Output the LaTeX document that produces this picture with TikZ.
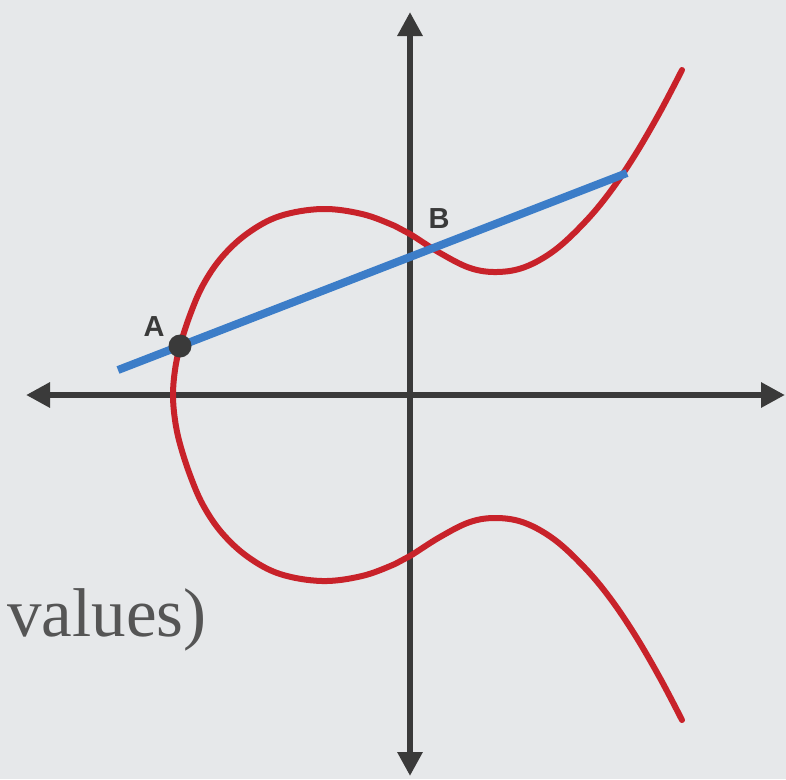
\documentclass[tikz,border=0pt]{standalone}
\usepackage{fontspec}
\setmainfont{Liberation Serif}
\newfontfamily\labfont{Liberation Sans}
\usetikzlibrary{arrows.meta}
\definecolor{bgc}{HTML}{E6E8EA}
\definecolor{axisc}{HTML}{3A3A3A}
\definecolor{curvec}{HTML}{C8222A}
\definecolor{linec}{HTML}{3C7DC8}
\definecolor{textc}{HTML}{555555}
\tikzset{
  axisline/.style={draw=axisc, line width=6pt, -{Triangle[length=24pt,width=24pt]}},
  curveline/.style={draw=curvec, line width=6pt, line cap=round},
  secant/.style={draw=linec, line width=8pt},
  ptlabel/.style={text=axisc, font=\labfont\bfseries\fontsize{29}{29}\selectfont, inner sep=0pt},
  dotpt/.style={circle, fill=axisc, minimum size=23pt, inner sep=0pt}
}
\begin{document}
\begin{tikzpicture}[x=1pt,y=-1pt]
\fill[bgc] (0,0) rectangle (786,779);
\useasboundingbox (0,0) rectangle (786,779);
\coordinate (O) at (410,395);
\coordinate (xl) at (26,395);
\coordinate (xr) at (785,395);
\coordinate (yt) at (410,12);
\coordinate (yb) at (410,776);
\draw[axisline] (O) -- (xl);
\draw[axisline] (O) -- (xr);
\draw[axisline] (O) -- (yt);
\draw[axisline] (O) -- (yb);
\draw[curveline] plot[smooth, tension=0.6] coordinates {
 (682,70) (660,112) (635,155) (610,192) (585,222) (555,250) (525,267) (497,272)
 (470,268) (440,253) (410,234) (395,226) (362,214) (322,209) (280,216) (248,233)
 (222,257) (203,285) (190,315) (180,346) (175,370) (173,395)
 (175,420) (180,444) (190,475) (203,505) (222,533) (248,557) (280,574) (322,581)
 (362,576) (395,564) (410,556) (440,537) (470,522) (497,518) (525,523) (555,540)
 (585,568) (610,598) (635,635) (660,678) (682,720)};
\coordinate (s1) at (118,370);
\coordinate (s2) at (627,173);
\draw[secant] (s1) -- (s2);
\node[dotpt] (A) at (180,346) {};
\node[ptlabel] (la) at (154,327) {A};
\node[ptlabel] (lb) at (439,219) {B};
\node[anchor=base west, inner sep=0pt, text=textc, font=\fontsize{69}{72}\selectfont] (vals) at (7,636) {values)};
\end{tikzpicture}
\end{document}
